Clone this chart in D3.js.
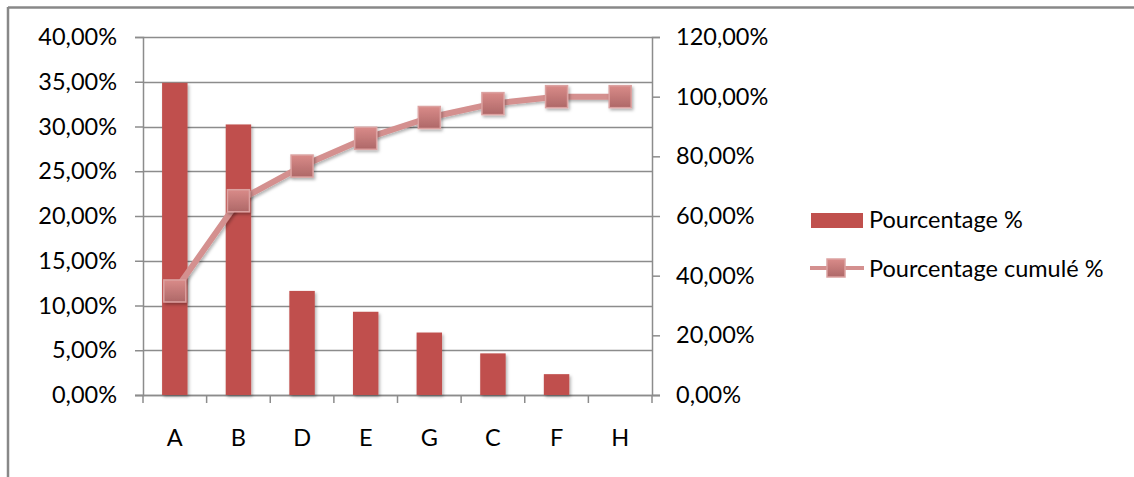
<!DOCTYPE html>
<html>
<head>
<meta charset="utf-8">
<script src="https://cdn.jsdelivr.net/npm/d3@7"></script>
<style>
  body { margin: 0; background: #fff; }
  text { font-family: Lato, "Open Sans", sans-serif; fill: #000; }
</style>
</head>
<body>
<div id="chart"></div>
<script>
// data
const categories = ["A", "B", "D", "E", "G", "C", "F", "H"];
const pourcentage = [0.3488, 0.3023, 0.1163, 0.0930, 0.0698, 0.0465, 0.0233, 0];
const cumule = [0.3488, 0.6512, 0.7674, 0.8605, 0.9302, 0.9767, 1.0, 1.0];
const leftTicks = [0, 0.05, 0.10, 0.15, 0.20, 0.25, 0.30, 0.35, 0.40];
const rightTicks = [0, 0.2, 0.4, 0.6, 0.8, 1.0, 1.2];
const seriesNames = ["Pourcentage %", "Pourcentage cumulé %"];

const W = 1134, H = 477;
const plot = { left: 143, right: 652, top: 37, bottom: 395 };
const FONT_SIZE = 23.5;

const BAR_COLOR = "#C0504D";
const LINE_COLOR = "#D4908F";
const GRID_COLOR = "#8c8c8c";

const fmt = v => (v * 100).toFixed(2).replace(".", ",") + "%";

const svg = d3.select("#chart").append("svg")
  .attr("width", W)
  .attr("height", H);

const defs = svg.append("defs");
const grad = defs.append("linearGradient")
  .attr("id", "markerFill")
  .attr("x1", 0).attr("y1", 0).attr("x2", 0).attr("y2", 1);
grad.append("stop").attr("offset", "0%").attr("stop-color", "#D98B89");
grad.append("stop").attr("offset", "100%").attr("stop-color", "#AE6868");

const shadow = defs.append("filter").attr("id", "shadow")
  .attr("x", "-30%").attr("y", "-30%").attr("width", "160%").attr("height", "160%");
shadow.append("feDropShadow")
  .attr("dx", 1.5).attr("dy", 2).attr("stdDeviation", 1.5)
  .attr("flood-color", "#000").attr("flood-opacity", 0.3);

// outer frame (only top and left edges are visible in the crop)
svg.append("line").attr("x1", 8).attr("y1", 7.5).attr("x2", W).attr("y2", 7.5)
  .attr("stroke", "#888").attr("stroke-width", 2.5);
svg.append("line").attr("x1", 8).attr("y1", 7).attr("x2", 8).attr("y2", H)
  .attr("stroke", "#888").attr("stroke-width", 2.5);

const x = d3.scaleBand()
  .domain(categories)
  .range([plot.left, plot.right])
  .paddingInner(0.6)
  .paddingOuter(0.3);

const xEdges = d3.scaleLinear()
  .domain([0, categories.length])
  .range([plot.left, plot.right]);

const yLeft = d3.scaleLinear().domain([0, 0.4]).range([plot.bottom, plot.top]);
const yRight = d3.scaleLinear().domain([0, 1.2]).range([plot.bottom, plot.top]);

const g = svg.append("g");

// horizontal gridlines
g.append("g").selectAll("line")
  .data(leftTicks)
  .join("line")
  .attr("x1", plot.left).attr("x2", plot.right)
  .attr("y1", d => Math.round(yLeft(d)) + 0.5)
  .attr("y2", d => Math.round(yLeft(d)) + 0.5)
  .attr("stroke", GRID_COLOR)
  .attr("stroke-width", 1.5);

// left axis
const leftAxis = g.append("g")
  .attr("transform", `translate(${plot.left},0)`)
  .call(d3.axisLeft(yLeft).tickValues(leftTicks).tickFormat(fmt).tickSize(8).tickPadding(18));
leftAxis.select(".domain").attr("stroke", GRID_COLOR).attr("stroke-width", 1.5);
leftAxis.selectAll(".tick line").attr("stroke", GRID_COLOR).attr("stroke-width", 1.5);
leftAxis.selectAll("text").attr("font-size", FONT_SIZE).attr("fill", "#000")
  .style("font-family", "Lato, 'Open Sans', sans-serif");

// right axis
const rightAxis = g.append("g")
  .attr("transform", `translate(${plot.right},0)`)
  .call(d3.axisRight(yRight).tickValues(rightTicks).tickFormat(fmt).tickSize(8).tickPadding(16));
rightAxis.select(".domain").attr("stroke", GRID_COLOR).attr("stroke-width", 1.5);
rightAxis.selectAll(".tick line").attr("stroke", GRID_COLOR).attr("stroke-width", 1.5);
rightAxis.selectAll("text").attr("font-size", FONT_SIZE).attr("fill", "#000")
  .style("font-family", "Lato, 'Open Sans', sans-serif");

// bottom axis: ticks between categories
g.append("line")
  .attr("x1", plot.left - 8).attr("x2", plot.right + 8)
  .attr("y1", plot.bottom + 0.5).attr("y2", plot.bottom + 0.5)
  .attr("stroke", GRID_COLOR).attr("stroke-width", 1.5);
g.append("g").selectAll("line")
  .data(d3.range(categories.length + 1))
  .join("line")
  .attr("x1", d => xEdges(d)).attr("x2", d => xEdges(d))
  .attr("y1", plot.bottom).attr("y2", plot.bottom + 8)
  .attr("stroke", GRID_COLOR).attr("stroke-width", 1.5);
g.append("g").selectAll("text")
  .data(categories)
  .join("text")
  .attr("x", d => x(d) + x.bandwidth() / 2)
  .attr("y", 446)
  .attr("text-anchor", "middle")
  .attr("font-size", FONT_SIZE)
  .text(d => d);

// bars
g.append("g").selectAll("rect")
  .data(pourcentage)
  .join("rect")
  .attr("x", (d, i) => x(categories[i]))
  .attr("y", d => yLeft(d))
  .attr("width", x.bandwidth())
  .attr("height", d => plot.bottom - yLeft(d))
  .attr("fill", BAR_COLOR)
  .attr("filter", "url(#shadow)");

// cumulative line
const line = d3.line()
  .x((d, i) => x(categories[i]) + x.bandwidth() / 2)
  .y(d => yRight(d));

g.append("path")
  .datum(cumule)
  .attr("d", line)
  .attr("fill", "none")
  .attr("stroke", LINE_COLOR)
  .attr("stroke-width", 6)
  .attr("stroke-linejoin", "round")
  .attr("filter", "url(#shadow)");

const MK = 22;
g.append("g").selectAll("rect")
  .data(cumule)
  .join("rect")
  .attr("x", (d, i) => x(categories[i]) + x.bandwidth() / 2 - MK / 2)
  .attr("y", d => yRight(d) - MK / 2)
  .attr("width", MK)
  .attr("height", MK)
  .attr("fill", "url(#markerFill)")
  .attr("stroke", "#DCA2A1")
  .attr("stroke-width", 1.5)
  .attr("filter", "url(#shadow)");

// legend
const legend = svg.append("g");
legend.append("rect")
  .attr("x", 811).attr("y", 213).attr("width", 52).attr("height", 15)
  .attr("fill", BAR_COLOR);
legend.append("text")
  .attr("x", 869).attr("y", 228)
  .attr("font-size", FONT_SIZE)
  .text(seriesNames[0]);

legend.append("line")
  .attr("x1", 810).attr("x2", 864).attr("y1", 268).attr("y2", 268)
  .attr("stroke", LINE_COLOR).attr("stroke-width", 4);
legend.append("rect")
  .attr("x", 827).attr("y", 259).attr("width", 18).attr("height", 18)
  .attr("fill", "url(#markerFill)")
  .attr("stroke", "#DCA2A1").attr("stroke-width", 1.5);
legend.append("text")
  .attr("x", 869).attr("y", 277)
  .attr("font-size", FONT_SIZE)
  .text(seriesNames[1]);
</script>
</body>
</html>
